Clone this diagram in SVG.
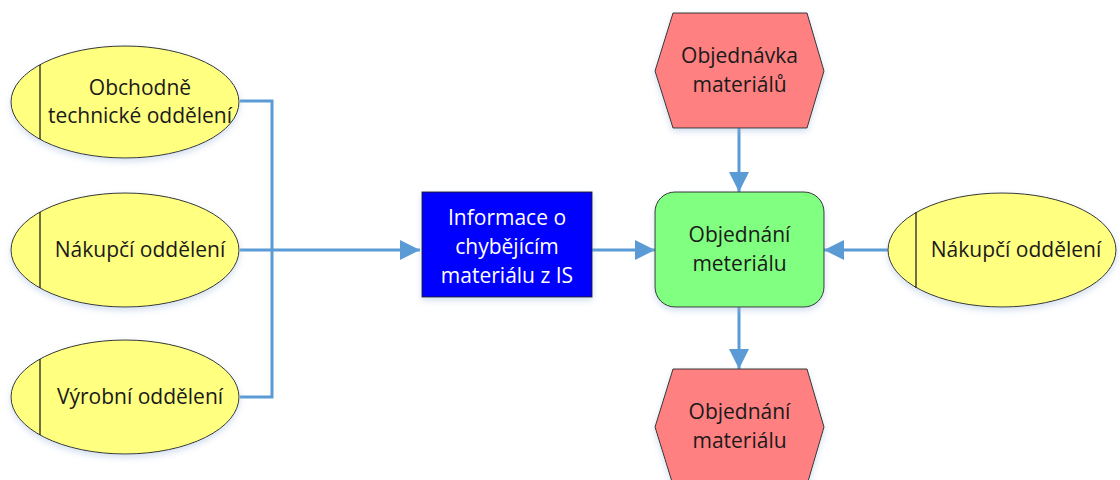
<svg xmlns="http://www.w3.org/2000/svg" width="1120" height="480" viewBox="0 0 1120 480">
  <defs>
    <filter id="shadow" x="-20%" y="-20%" width="140%" height="150%">
      <feDropShadow dx="0" dy="3" stdDeviation="3" flood-color="#9db8d9" flood-opacity="0.45"/>
    </filter>
    <marker id="arrow" viewBox="0 0 20 20" refX="20" refY="10" markerWidth="20" markerHeight="20" markerUnits="userSpaceOnUse" orient="auto">
      <path d="M0,0 L20,10 L0,20 Z" fill="#5b9bd5"/>
    </marker>
  </defs>
  <style>
    .org { fill: #ffff80; stroke: #333333; stroke-width: 1; filter: url(#shadow); }
    .bar { stroke: #222222; stroke-width: 1.3; }
    .event { fill: #ff8080; stroke: #333333; stroke-width: 1; filter: url(#shadow); }
    .func { fill: #80ff80; stroke: #333333; stroke-width: 1; filter: url(#shadow); }
    .info { fill: #0000ff; stroke: #222222; stroke-width: 1; filter: url(#shadow); }
    .lbl { font-family: "Open Sans", "Liberation Sans", sans-serif; font-size: 21px; fill: #1a1a1a; text-anchor: middle; }
    .lbl-w { font-family: "Open Sans", "Liberation Sans", sans-serif; font-size: 21px; fill: #ffffff; text-anchor: middle; }
    .conn { fill: none; stroke: #5b9bd5; stroke-width: 3; }
  </style>

  <rect width="1120" height="480" fill="#ffffff"/>

  <!-- connectors -->
  <g id="connectors">
    <path class="conn" d="M240,101 H272 V397 H240"/>
    <path class="conn" d="M240,250 H420" marker-end="url(#arrow)"/>
    <path class="conn" d="M592,250 H655" marker-end="url(#arrow)"/>
    <path class="conn" d="M739,128 V192" marker-end="url(#arrow)"/>
    <path class="conn" d="M739,307 V369" marker-end="url(#arrow)"/>
    <path class="conn" d="M888,250 H824" marker-end="url(#arrow)"/>
  </g>

  <!-- organisational units -->
  <g id="org-obchodne-technicke">
    <ellipse class="org" cx="125" cy="102" rx="114" ry="56"/>
    <line class="bar" x1="40" y1="65" x2="40" y2="139"/>
    <text class="lbl" x="140" y="95">Obchodně</text>
    <text class="lbl" x="140" y="123">technické oddělení</text>
  </g>

  <g id="org-nakupci-left">
    <ellipse class="org" cx="125" cy="250" rx="114" ry="57"/>
    <line class="bar" x1="40" y1="212" x2="40" y2="288"/>
    <text class="lbl" x="140" y="257">Nákupčí oddělení</text>
  </g>

  <g id="org-vyrobni">
    <ellipse class="org" cx="125" cy="397" rx="114" ry="57"/>
    <line class="bar" x1="40" y1="359" x2="40" y2="435"/>
    <text class="lbl" x="140" y="404">Výrobní oddělení</text>
  </g>

  <g id="org-nakupci-right">
    <ellipse class="org" cx="1002" cy="250" rx="114" ry="57"/>
    <line class="bar" x1="916" y1="212" x2="916" y2="288"/>
    <text class="lbl" x="1016" y="257">Nákupčí oddělení</text>
  </g>

  <!-- information object -->
  <g id="info-system">
    <rect class="info" x="422" y="192" width="170" height="105"/>
    <text class="lbl-w" x="507" y="225">Informace o</text>
    <text class="lbl-w" x="507" y="254">chybějícím</text>
    <text class="lbl-w" x="507" y="283">materiálu z IS</text>
  </g>

  <!-- function -->
  <g id="func-objednani">
    <rect class="func" x="655" y="192" width="169" height="115" rx="20" ry="20"/>
    <text class="lbl" x="739.5" y="242">Objednání</text>
    <text class="lbl" x="739.5" y="271">meteriálu</text>
  </g>

  <!-- events -->
  <g id="event-objednavka">
    <polygon class="event" points="673,13 807,13 824,71 807,128 673,128 655,71"/>
    <text class="lbl" x="739.5" y="63">Objednávka</text>
    <text class="lbl" x="739.5" y="92">materiálů</text>
  </g>

  <g id="event-objednani">
    <polygon class="event" points="673,369 807,369 824,427 807,485 673,485 655,427"/>
    <text class="lbl" x="739.5" y="419">Objednání</text>
    <text class="lbl" x="739.5" y="448">materiálu</text>
  </g>
</svg>
